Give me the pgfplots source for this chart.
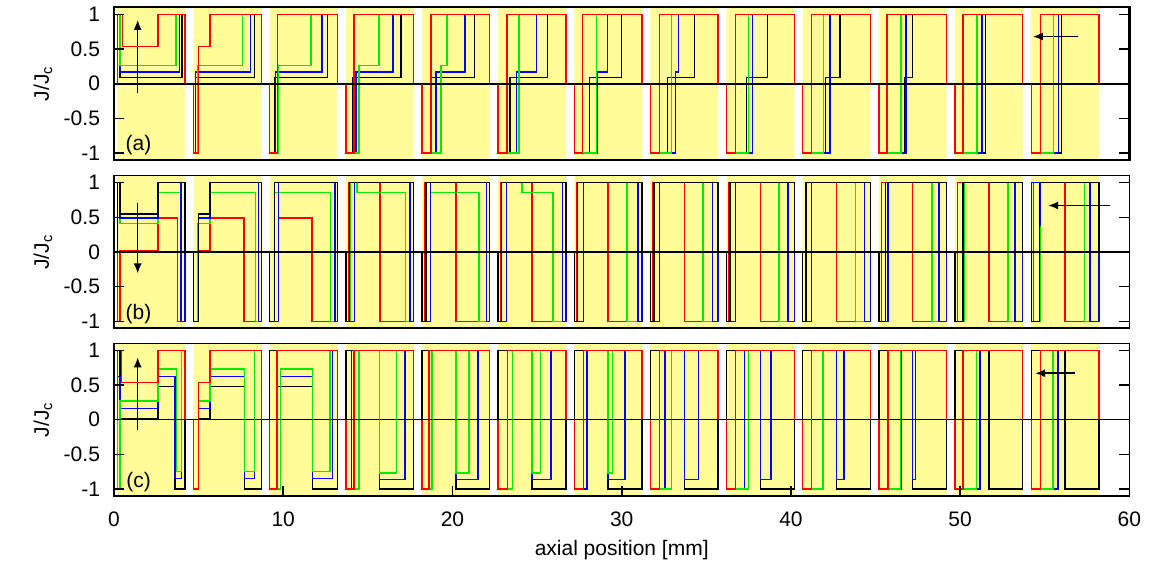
\documentclass[border=0pt]{standalone}
\usepackage{pgfplots}
\pgfplotsset{compat=1.18}
\usepackage{fontspec}
\setmainfont{Liberation Sans}
\usetikzlibrary{arrows.meta}
\definecolor{yel}{RGB}{255,252,153}
\definecolor{grn}{RGB}{0,235,0}
\definecolor{blu}{RGB}{0,0,255}
\definecolor{rd}{RGB}{255,0,0}
\pgfplotsset{
  panel/.style={
    scale only axis, width=507.7pt, height=76.3pt,
    xmin=0, xmax=60, ymin=-1.1, ymax=1.1,
    ytick={-1,-0.5,0,0.5,1}, yticklabels={-1,-0.5,0,0.5,1},
    tick align=inside, major tick length=5pt,
    ytick pos=both, yticklabel pos=left,
    ylabel={J/J\textsubscript{c}},
    ylabel style={at={(axis description cs:-0.07,0.5)}, anchor=center},
    yticklabel style={xshift=-3.5pt},
    font=\fontsize{10.5}{12}\selectfont,
    /pgf/number format/assume math mode=true,
    axis on top,
    tick style={black, line width=0.8pt},
  },
  cp/.style={const plot, line width=0.7pt, mark=none},
  yelfill/.style={fill=yel, draw=none, forget plot},
}
\newcommand{\yellowblocks}{%
\addplot[yelfill] coordinates {(0.2,-1.2)(0.2,1.2)(4.2,1.2)(4.2,-1.2)(4.7,-1.2)(4.7,1.2)(8.7,1.2)(8.7,-1.2)(9.2,-1.2)(9.2,1.2)(13.2,1.2)(13.2,-1.2)(13.7,-1.2)(13.7,1.2)(17.7,1.2)(17.7,-1.2)(18.2,-1.2)(18.2,1.2)(22.2,1.2)(22.2,-1.2)(22.7,-1.2)(22.7,1.2)(26.7,1.2)(26.7,-1.2)(27.2,-1.2)(27.2,1.2)(31.2,1.2)(31.2,-1.2)(31.7,-1.2)(31.7,1.2)(35.7,1.2)(35.7,-1.2)(36.2,-1.2)(36.2,1.2)(40.2,1.2)(40.2,-1.2)(40.7,-1.2)(40.7,1.2)(44.7,1.2)(44.7,-1.2)(45.2,-1.2)(45.2,1.2)(49.2,1.2)(49.2,-1.2)(49.7,-1.2)(49.7,1.2)(53.7,1.2)(53.7,-1.2)(54.2,-1.2)(54.2,1.2)(58.2,1.2)(58.2,-1.2)};
}
\begin{document}
\begin{tikzpicture}
\path[use as bounding box] (0,0) rectangle (581pt,283.5pt);
% ---------------- panel (a)
\begin{axis}[panel, at={(57pt,203.5pt)}, anchor=south west, xtick=\empty,
  axis line style={line width=1.1pt}]
\yellowblocks
% black
\addplot[black, cp] coordinates {(0,0)(0.2,1)(0.35,0.09)(4.02,1)(4.2,0)
 (4.7,-1)(4.8,0.09)(8.3,1)(8.7,0)
 (9.2,-1)(9.48,0.09)(12.63,1)(13.2,0)
 (13.7,-1)(14.11,0.09)(16.95,1)(17.7,0)
 (18.2,-1)(18.77,0.09)(21.3,1)(22.2,0)
 (22.7,-1)(23.41,0.09)(25.6,1)(26.7,0)
 (27.2,-1)(28.09,0.09)(29.98,1)(31.2,0)
 (31.7,-1)(32.7,0.09)(34.3,1)(35.7,0)
 (36.2,-1)(37.38,0.09)(38.63,1)(40.2,0)
 (40.7,-1)(42.06,0.09)(42.89,1)(44.7,0)
 (45.2,-1)(46.74,0.09)(47.2,1)(49.2,0)
 (49.7,-1)(51.48,1)(53.7,0)
 (54.2,-1)(55.98,1)(58.2,0)(60,0)};
% blue
\addplot[blu, cp] coordinates {(0,0)(0.2,1)(0.35,0.17)(3.86,1)(4.2,0)
 (4.7,-1)(4.82,0.17)(8.07,1)(8.7,0)
 (9.2,-1)(9.55,0.17)(12.28,1)(13.2,0)
 (13.7,-1)(14.3,0.17)(16.48,1)(17.7,0)
 (18.2,-1)(19.03,0.17)(20.74,1)(22.2,0)
 (22.7,-1)(23.77,0.17)(24.95,1)(26.7,0)
 (27.2,-1)(28.53,0.17)(29.15,1)(31.2,0)
 (31.7,-1)(33.18,0.17)(33.36,1)(35.7,0)
 (36.2,-1)(37.74,1)(40.2,0)
 (40.7,-1)(42.3,1)(44.7,0)
 (45.2,-1)(46.8,1)(49.2,0)
 (49.7,-1)(51.3,1)(53.7,0)
 (54.2,-1)(55.8,1)(58.2,0)(60,0)};
% green
\addplot[grn, cp] coordinates {(0,0)(0.2,1)(0.35,0.265)(3.66,1)(4.2,0)
 (4.7,-1)(4.94,0.265)(7.6,1)(8.7,0)
 (9.2,-1)(9.73,0.265)(11.63,1)(13.2,0)
 (13.7,-1)(14.47,0.265)(15.65,1)(17.7,0)
 (18.2,-1)(19.32,0.265)(19.68,1)(22.2,0)
 (22.7,-1)(23.94,1)(26.7,0)
 (27.2,-1)(28.5,1)(31.2,0)
 (31.7,-1)(32.94,1)(35.7,0)
 (36.2,-1)(37.5,1)(40.2,0)
 (40.7,-1)(41.94,1)(44.7,0)
 (45.2,-1)(46.5,1)(49.2,0)
 (49.7,-1)(51.0,1)(53.7,0)
 (54.2,-1)(55.5,1)(58.2,0)(60,0)};
% red
\addplot[rd, cp] coordinates {(0,0)(0.2,1)(0.5,0.54)(2.6,1)(4.2,0)
 (4.7,-1)(5.0,0.54)(5.68,1)(8.7,0)
 (9.2,-1)(9.67,1)(13.2,0)
 (13.7,-1)(14.17,1)(17.7,0)
 (18.2,-1)(18.73,1)(22.2,0)
 (22.7,-1)(23.23,1)(26.7,0)
 (27.2,-1)(27.67,1)(31.2,0)
 (31.7,-1)(32.23,1)(35.7,0)
 (36.2,-1)(36.73,1)(40.2,0)
 (40.7,-1)(41.23,1)(44.7,0)
 (45.2,-1)(45.67,1)(49.2,0)
 (49.7,-1)(50.17,1)(53.7,0)
 (54.2,-1)(54.73,1)(58.2,0)(60,0)};
\addplot[black, line width=1.1pt, mark=none] coordinates {(0,0)(60,0)};
\draw[-{Latex[length=5pt,width=4pt]}, line width=0.8pt] (axis cs:1.4,-0.14) -- (axis cs:1.4,0.92);
\draw[-{Latex[length=5pt,width=4pt]}, line width=0.8pt] (axis cs:56.97,0.68) -- (axis cs:54.3,0.68);
\node at (axis cs:1.45,-0.88) {(a)};
\end{axis}
% ---------------- panel (b)
\begin{axis}[panel, at={(57pt,119.35pt)}, anchor=south west, xtick=\empty,
  axis line style={line width=0.8pt}]
\yellowblocks
% red
\addplot[rd, cp] coordinates {(0,0)(0.2,-1)(0.35,0.02)(2.59,0.49)(3.74,-1)(4.2,0)
 (4.7,-1)(5.0,0.02)(5.68,0.49)(7.68,-1)(8.7,0)
 (9.2,-1)(9.73,0.49)(11.7,-1)(13.2,0)
 (13.7,-1)(13.85,1)(15.72,-1)(17.7,0)
 (18.2,-1)(18.35,1)(20.2,-1)(22.2,0)
 (22.7,-1)(22.85,1)(24.7,-1)(26.7,0)
 (27.2,-1)(27.35,1)(29.2,-1)(31.2,0)
 (31.7,-1)(31.85,1)(33.7,-1)(35.7,0)
 (36.2,-1)(36.35,1)(38.2,-1)(40.2,0)
 (40.7,-1)(40.85,1)(42.7,-1)(44.7,0)
 (45.2,-1)(45.35,1)(47.2,-1)(49.2,0)
 (49.7,-1)(49.85,1)(51.7,-1)(53.7,0)
 (54.2,-1)(54.35,1)(56.2,-1)(58.2,0)(60,0)};
% green
\addplot[grn, cp] coordinates {(0,0)(0.2,1)(0.35,0.41)(2.59,0.86)(4.0,-1)(4.2,0)
 (4.7,-1)(4.95,0.41)(5.68,0.86)(8.35,-1)(8.7,0)
 (9.2,-1)(9.5,0.86)(12.8,-1)(13.2,0)
 (13.7,-1)(13.95,1)(14.35,0.86)(17.24,-1)(17.7,0)
 (18.2,-1)(18.7,0.86)(21.57,-1)(22.2,0)
 (22.7,-1)(23.2,1)(24.1,0.86)(25.93,-1)(26.7,0)
 (27.2,-1)(27.73,1)(30.32,-1)(31.2,0)
 (31.7,-1)(32.23,1)(34.81,-1)(35.7,0)
 (36.2,-1)(36.73,1)(39.3,-1)(40.2,0)
 (40.7,-1)(41.23,1)(43.83,-1)(44.7,0)
 (45.2,-1)(45.73,1)(48.33,-1)(49.2,0)
 (49.7,-1)(50.23,1)(52.82,-1)(53.7,0)
 (54.2,-1)(54.73,1)(57.33,-1)(58.2,0)(60,0)};
% blue
\addplot[blu, cp] coordinates {(0,0)(0.2,1)(0.35,0.49)(2.59,1)(3.95,-1)(4.2,0)
 (4.7,-1)(5.0,0.49)(5.68,1)(8.55,-1)(8.7,0)
 (9.2,-1)(9.73,1)(13.05,-1)(13.2,0)
 (13.7,-1)(14.2,1)(17.5,-1)(17.7,0)
 (18.2,-1)(18.7,1)(22.0,-1)(22.2,0)
 (22.7,-1)(23.2,1)(26.5,-1)(26.7,0)
 (27.2,-1)(27.73,1)(30.97,-1)(31.2,0)
 (31.7,-1)(32.23,1)(35.38,-1)(35.7,0)
 (36.2,-1)(36.73,1)(39.83,-1)(40.2,0)
 (40.7,-1)(41.23,1)(44.33,-1)(44.7,0)
 (45.2,-1)(45.73,1)(48.76,-1)(49.2,0)
 (49.7,-1)(50.17,1)(53.25,-1)(53.7,0)
 (54.2,1)(54.67,0.38)(54.72,1)(57.68,-1)(58.2,0)(60,0)};
% black
\addplot[black, cp] coordinates {(0,0)(0.2,1)(0.35,0.55)(2.59,1)(4.2,0)
 (4.7,-1)(4.98,0.55)(5.68,1)(8.7,0)
 (9.2,-1)(9.48,1)(13.2,0)
 (13.7,-1)(13.9,1)(17.7,0)
 (18.2,-1)(18.44,1)(22.2,0)
 (22.7,-1)(22.9,1)(26.7,0)
 (27.2,-1)(27.4,1)(31.2,0)
 (31.7,-1)(31.9,1)(35.7,0)
 (36.2,-1)(36.4,1)(40.2,0)
 (40.7,-1)(40.9,1)(44.7,0)
 (45.2,-1)(45.6,1)(49.2,0)
 (49.7,-1)(50.17,1)(53.7,0)
 (54.2,-1)(54.67,1)(58.2,0)(60,0)};
\addplot[black, line width=0.6pt, mark=none] coordinates {(0,0)(60,0)};
\draw[-{Latex[length=5pt,width=4pt]}, line width=0.8pt] (axis cs:1.4,0.71) -- (axis cs:1.4,-0.31);
\draw[-{Latex[length=5pt,width=4pt]}, line width=0.8pt] (axis cs:58.87,0.67) -- (axis cs:55.2,0.67);
\node at (axis cs:1.45,-0.9) {(b)};
\end{axis}
% ---------------- panel (c)
\begin{axis}[panel, at={(57pt,35.5pt)}, anchor=south west,
  axis line style={line width=0.8pt},
  xtick={0,10,...,60}, xtick pos=bottom,
  xticklabel style={yshift=-4.5pt},
  xlabel={axial position [mm]},
  xlabel style={at={(axis description cs:0.5,-0.354)}, anchor=center}]
\yellowblocks
% black
\addplot[black, cp] coordinates {(0,0)(0.2,1)(0.35,0.01)(2.59,0.48)(3.6,-1)(4.2,0)
 (4.7,-1)(4.98,0.01)(5.68,0.48)(7.7,-1)(8.7,0)
 (9.2,1)(9.6,0.48)(11.72,-1)(13.2,0)
 (13.7,1)(15.7,-1)(17.7,0)
 (18.2,1)(20.2,-1)(22.2,0)
 (22.7,1)(24.7,-1)(26.7,0)
 (27.2,1)(29.2,-1)(31.2,0)
 (31.7,1)(33.7,-1)(35.7,0)
 (36.2,1)(38.2,-1)(40.2,0)
 (40.7,1)(42.7,-1)(44.7,0)
 (45.2,1)(47.2,-1)(49.2,0)
 (49.7,1)(51.7,-1)(53.7,0)
 (54.2,1)(56.2,-1)(58.2,0)(60,0)};
% blue
\addplot[blu, cp] coordinates {(0,0)(0.2,0.62)(0.35,0.16)(2.59,0.62)(3.6,-0.85)(4.0,1)(4.2,0)
 (4.7,-1)(4.98,0.16)(5.68,0.62)(7.7,-0.85)(8.3,1)(8.7,0)
 (9.2,-1)(9.83,0.62)(11.72,-0.85)(12.9,1)(13.2,0)
 (13.7,-1)(14.05,1)(15.7,-0.86)(17.2,1)(17.7,0)
 (18.2,-1)(18.65,1)(20.2,-0.86)(21.5,1)(22.2,0)
 (22.7,-1)(23.25,1)(24.7,-0.86)(25.83,1)(26.7,0)
 (27.2,-1)(27.95,1)(29.2,-0.86)(30.2,1)(31.2,0)
 (31.7,-1)(32.57,1)(33.7,-0.86)(34.53,1)(35.7,0)
 (36.2,-1)(37.26,1)(38.2,-0.86)(38.83,1)(40.2,0)
 (40.7,-1)(41.9,1)(42.7,-0.86)(43.14,1)(44.7,0)
 (45.2,-1)(46.55,1)(47.2,-0.86)(47.35,1)(49.2,0)
 (49.7,-1)(51.18,1)(53.7,0)
 (54.2,-1)(55.78,1)(58.2,0)(60,0)};
% green
\addplot[grn, cp] coordinates {(0,0)(0.2,-1)(0.35,0.27)(2.59,0.73)(3.7,-0.75)(4.0,1)(4.2,0)
 (4.7,-1)(4.98,0.27)(5.68,0.73)(7.7,-0.75)(8.3,1)(8.7,0)
 (9.2,-1)(9.83,0.73)(11.72,-0.75)(12.77,1)(13.2,0)
 (13.7,-1)(14.47,1)(15.7,-0.77)(16.7,1)(17.7,0)
 (18.2,-1)(18.8,1)(20.2,-0.77)(20.97,1)(22.2,0)
 (22.7,-1)(23.55,1)(24.7,-0.77)(25.2,1)(26.7,0)
 (27.2,-1)(27.73,1)(29.2,-0.77)(29.44,1)(31.2,0)
 (31.7,-1)(32.96,1)(35.7,0)
 (36.2,-1)(37.5,1)(40.2,0)
 (40.7,-1)(41.9,1)(44.7,0)
 (45.2,-1)(46.48,1)(49.2,0)
 (49.7,-1)(50.97,1)(53.7,0)
 (54.2,-1)(55.48,1)(58.2,0)(60,0)};
% red
\addplot[rd, cp] coordinates {(0,0)(0.2,1)(0.45,0.54)(2.59,1)(4.2,0)
 (4.7,-1)(4.98,0.54)(5.68,1)(8.7,0)
 (9.2,-1)(9.63,1)(13.2,0)
 (13.7,-1)(14.17,1)(17.7,0)
 (18.2,-1)(18.61,1)(22.2,0)
 (22.7,-1)(23.25,1)(26.7,0)
 (27.2,-1)(27.73,1)(31.2,0)
 (31.7,-1)(32.23,1)(35.7,0)
 (36.2,-1)(36.71,1)(40.2,0)
 (40.7,-1)(41.23,1)(44.7,0)
 (45.2,-1)(45.73,1)(49.2,0)
 (49.7,-1)(50.17,1)(53.7,0)
 (54.2,-1)(54.73,1)(58.2,0)(60,0)};
\addplot[black, line width=0.6pt, mark=none] coordinates {(0,0)(60,0)};
\draw[-{Latex[length=5pt,width=4pt]}, line width=0.8pt] (axis cs:1.4,-0.15) -- (axis cs:1.4,0.9);
\draw[-{Latex[length=5pt,width=4pt]}, line width=0.8pt] (axis cs:56.8,0.67) -- (axis cs:54.43,0.67);
\node at (axis cs:1.45,-0.9) {(c)};
\end{axis}
\end{tikzpicture}
\end{document}
